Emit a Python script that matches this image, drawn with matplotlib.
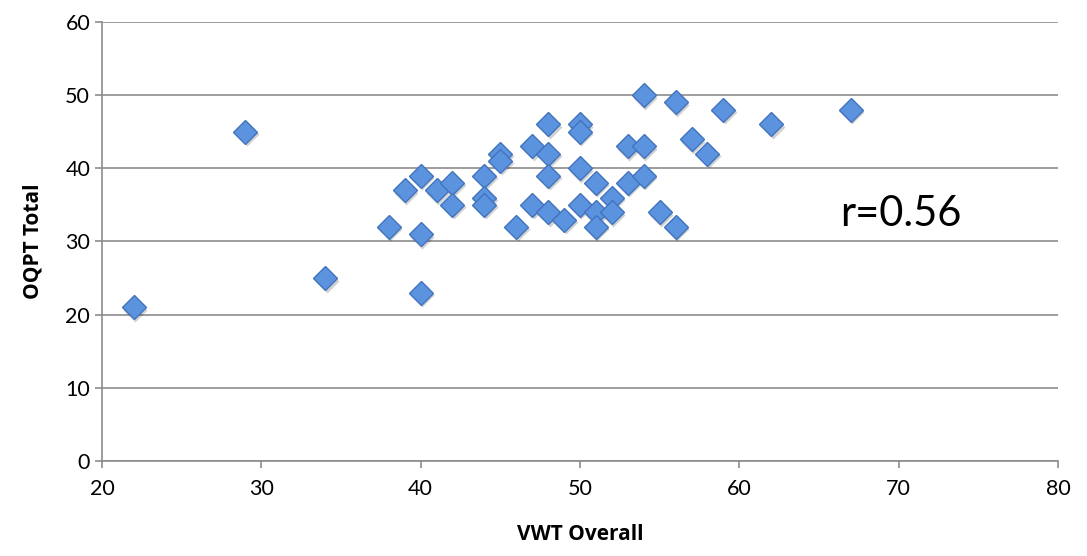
import matplotlib.pyplot as plt
import matplotlib.transforms as mtransforms

plt.rcParams['font.family'] = ['Lato', 'DejaVu Sans']

# VWT Overall vs OQPT Total
vwt_overall = [22, 29, 34, 38, 39, 40, 40, 40, 41, 42, 42, 44, 44, 44,
               45, 45, 46, 47, 47, 48, 48, 48, 48, 49, 50, 50, 50, 50,
               51, 51, 51, 52, 52, 53, 53, 54, 54, 54, 55, 56, 56, 57,
               58, 59, 62, 67]
oqpt_total = [21, 45, 25, 32, 37, 39, 31, 23, 37, 38, 35, 39, 36, 35,
              42, 41, 32, 43, 35, 46, 42, 39, 34, 33, 46, 45, 40, 35,
              38, 34, 32, 36, 34, 43, 38, 50, 43, 39, 34, 49, 32, 44,
              42, 48, 46, 48]
r_label = "r=0.56"

fig = plt.figure(figsize=(10.87, 5.56), dpi=100)
ax = fig.add_axes([0.0938, 0.1709, 0.8795, 0.7896])

grid_col = "#8c8c8c"
ax.set_xlim(20, 80)
ax.set_ylim(0, 60)
ax.set_xticks(range(20, 81, 10))
ax.set_yticks(range(0, 61, 10))
ax.yaxis.grid(True, color=grid_col, lw=1.2)
ax.set_axisbelow(True)
for side in ("top", "right"):
    ax.spines[side].set_visible(False)
for side in ("left", "bottom"):
    ax.spines[side].set_color(grid_col)
    ax.spines[side].set_linewidth(1.2)
ax.tick_params(colors=grid_col, labelcolor="black", labelsize=15.5,
               length=5, width=1.2, direction="out")
ax.tick_params(axis="x", pad=8)

# soft drop shadow under each marker
shadow = mtransforms.offset_copy(ax.transData, fig=fig, x=1.5, y=-2.5, units="dots")
ax.plot(vwt_overall, oqpt_total, "D", ms=12, color="#000000", alpha=0.18,
        mec="none", transform=shadow, zorder=2)
ax.plot(vwt_overall, oqpt_total, "D", ms=12, color="#5c93de",
        mec="#4274bd", mew=1.0, zorder=3)

label_font = dict(family=["Open Sans", "DejaVu Sans"], fontsize=15, fontweight="bold")
ax.set_xlabel("VWT Overall", labelpad=18, **label_font)
ax.set_ylabel("OQPT Total", labelpad=16, **label_font)

ax.text(66.3, 33.8, r_label, fontsize=30, ha="left", va="center")

fig.savefig("out.png", dpi=100)
